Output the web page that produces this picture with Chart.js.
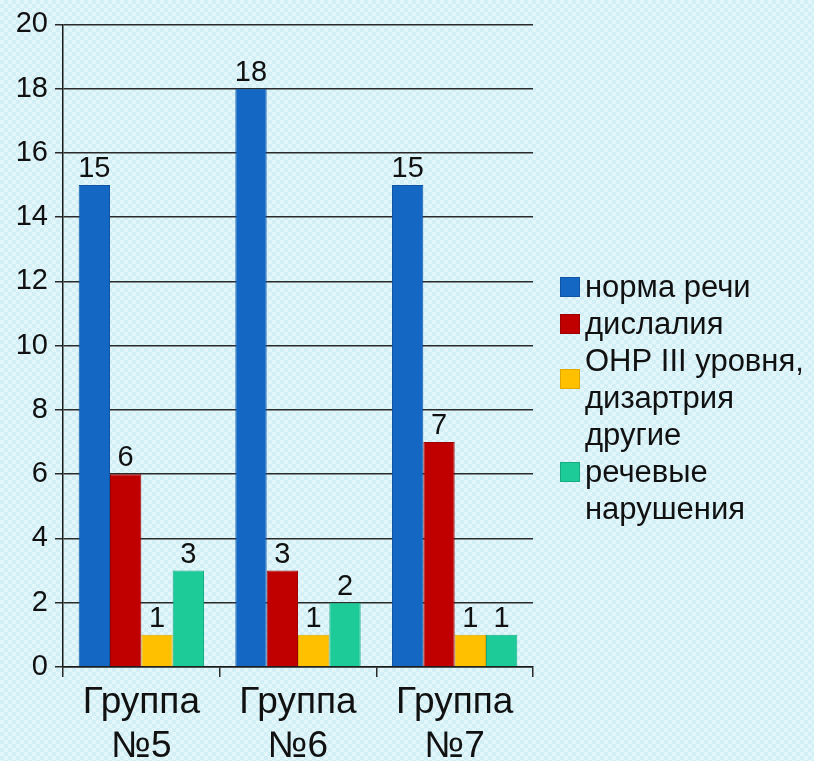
<!DOCTYPE html>
<html>
<head>
<meta charset="utf-8">
<script src="https://cdn.jsdelivr.net/npm/chart.js@4.4.1/dist/chart.umd.min.js"></script>
<style>
  html, body { margin: 0; padding: 0; }
  body {
    width: 814px; height: 761px; overflow: hidden;
    background-color: #dbf3f9;
    background-image: repeating-conic-gradient(#d3eff6 0 25%, #e3f7fb 0 50%);
    background-size: 8px 8px;
    font-family: "Liberation Sans", Arial, sans-serif;
  }
  #wrap { position: relative; width: 814px; height: 761px; }
  canvas { position: absolute; left: 0; top: 0; }
  #legend { position: absolute; left: 560px; top: 268px; }
  .item { display: flex; align-items: center; }
  .box { width: 20px; height: 20px; margin-right: 5px; box-sizing: border-box; flex: none; }
  .lbl { font-size: 31px; line-height: 37px; color: #111; white-space: pre; }
</style>
</head>
<body>
<div id="wrap">
  <canvas id="c" width="814" height="761"></canvas>
  <div id="legend"></div>
</div>
<script>
const categories = [["Группа", "№5"], ["Группа", "№6"], ["Группа", "№7"]];
const seriesNames = ["норма речи", "дислалия", "ОНР III уровня,\nдизартрия", "другие\nречевые\nнарушения"];
const normaRechi = [15, 18, 15];
const dislaliya = [6, 3, 7];
const onrDizartriya = [1, 1, 1];
const drugieNarusheniya = [3, 2, 1];
const yTicks = [0, 2, 4, 6, 8, 10, 12, 14, 16, 18, 20];

const colors = ["#1468c4", "#c00000", "#ffc000", "#1dcb98"];
const borders = ["#0f55a3", "#9e0000", "#e0a800", "#15ad80"];
const seriesValues = [normaRechi, dislaliya, onrDizartriya, drugieNarusheniya];

const datasets = seriesValues.map((vals, i) => ({
  label: seriesNames[i],
  data: vals,
  backgroundColor: colors[i],
  borderColor: borders[i],
  borderWidth: 1,
  categoryPercentage: 0.8,
  barPercentage: 1.0
}));

const valueLabels = {
  id: 'valueLabels',
  afterDatasetsDraw(chart) {
    const ctx = chart.ctx;
    ctx.save();
    ctx.font = '29px "Liberation Sans", Arial, sans-serif';
    ctx.fillStyle = '#111';
    ctx.textAlign = 'center';
    ctx.textBaseline = 'alphabetic';
    chart.data.datasets.forEach((ds, di) => {
      const meta = chart.getDatasetMeta(di);
      meta.data.forEach((bar, j) => {
        ctx.fillText(String(ds.data[j]), bar.x, bar.y - 8);
      });
    });
    ctx.restore();
  }
};

const chart = new Chart(document.getElementById('c'), {
  type: 'bar',
  data: { labels: categories, datasets },
  options: {
    responsive: false,
    animation: false,
    layout: { padding: { left: 16, top: 24, right: 281, bottom: 0 } },
    plugins: { legend: { display: false }, tooltip: { enabled: false } },
    scales: {
      x: {
        afterFit(scale) { scale.height = 94; },
        grid: { display: true, drawOnChartArea: false, drawTicks: true, tickLength: 10, color: '#2a2a2a', lineWidth: 1.5 },
        border: { display: true, color: '#1a1a1a', width: 1.5 },
        ticks: { color: '#111', padding: 4, font: { family: '"Liberation Sans", Arial, sans-serif', size: 37, lineHeight: 1.19 } }
      },
      y: {
        min: 0, max: 20,
        afterFit(scale) { scale.width = 47; },
        afterBuildTicks(scale) { scale.ticks = yTicks.map(v => ({ value: v })); },
        grid: { color: '#2a2a2a', lineWidth: 1.5, tickLength: 8, drawTicks: true },
        border: { display: true, color: '#1a1a1a', width: 1.5 },
        ticks: { color: '#111', padding: 7, font: { family: '"Liberation Sans", Arial, sans-serif', size: 29 } }
      }
    }
  },
  plugins: [valueLabels]
});

const legend = document.getElementById('legend');
chart.data.datasets.forEach((ds, i) => {
  const item = document.createElement('div');
  item.className = 'item';
  const box = document.createElement('div');
  box.className = 'box';
  box.style.background = ds.backgroundColor;
  box.style.border = '1px solid ' + ds.borderColor;
  const lbl = document.createElement('div');
  lbl.className = 'lbl';
  lbl.textContent = ds.label;
  item.appendChild(box);
  item.appendChild(lbl);
  legend.appendChild(item);
});
</script>
</body>
</html>
